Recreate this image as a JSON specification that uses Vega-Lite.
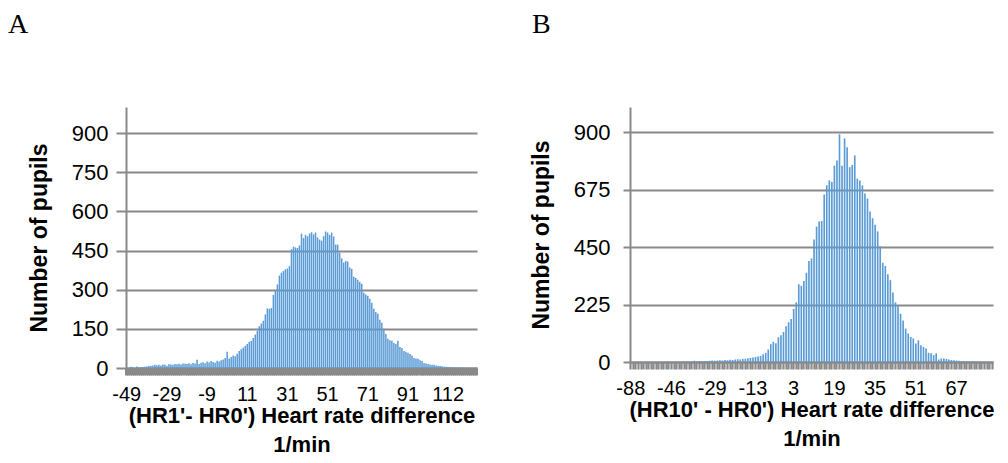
{
  "$schema": "https://vega.github.io/schema/vega-lite/v6.json",
  "padding": {"left": 8, "top": 11, "right": 5, "bottom": 0},
  "background": "white",
  "spacing": 52,
  "datasets": {
    "a": [
      {"v":-49,"n":4},{"v":-48,"n":0},{"v":-47,"n":5},{"v":-46,"n":3},{"v":-45,"n":0},{"v":-44,"n":6},{"v":-43,"n":2},{"v":-42,"n":3},{"v":-41,"n":4},{"v":-40,"n":5},
      {"v":-39,"n":6},{"v":-38,"n":8},{"v":-37,"n":9},{"v":-36,"n":10},{"v":-35,"n":12},{"v":-34,"n":11},{"v":-33,"n":12},{"v":-32,"n":10},{"v":-31,"n":13},{"v":-30,"n":12},
      {"v":-29,"n":9},{"v":-28,"n":14},{"v":-27,"n":13},{"v":-26,"n":12},{"v":-25,"n":15},{"v":-24,"n":14},{"v":-23,"n":16},{"v":-22,"n":13},{"v":-21,"n":17},{"v":-20,"n":16},
      {"v":-19,"n":15},{"v":-18,"n":18},{"v":-17,"n":14},{"v":-16,"n":19},{"v":-15,"n":17},{"v":-14,"n":32},{"v":-13,"n":15},{"v":-12,"n":20},{"v":-11,"n":22},{"v":-10,"n":18},
      {"v":-9,"n":25},{"v":-8,"n":21},{"v":-7,"n":27},{"v":-6,"n":23},{"v":-5,"n":20},{"v":-4,"n":28},{"v":-3,"n":25},{"v":-2,"n":30},{"v":-1,"n":33},{"v":0,"n":38},
      {"v":1,"n":62},{"v":2,"n":36},{"v":3,"n":42},{"v":4,"n":48},{"v":5,"n":45},{"v":6,"n":55},{"v":7,"n":65},{"v":8,"n":72},{"v":9,"n":78},{"v":10,"n":85},
      {"v":11,"n":92},{"v":12,"n":100},{"v":13,"n":104},{"v":14,"n":115},{"v":15,"n":128},{"v":16,"n":142},{"v":17,"n":160},{"v":18,"n":170},{"v":19,"n":181},{"v":20,"n":205},
      {"v":21,"n":228},{"v":22,"n":227},{"v":23,"n":230},{"v":24,"n":280},{"v":25,"n":296},{"v":26,"n":320},{"v":27,"n":354},{"v":28,"n":365},{"v":29,"n":372},{"v":30,"n":378},
      {"v":31,"n":381},{"v":32,"n":390},{"v":33,"n":455},{"v":34,"n":465},{"v":35,"n":462},{"v":36,"n":460},{"v":37,"n":470},{"v":38,"n":515},{"v":39,"n":498},{"v":40,"n":510},
      {"v":41,"n":505},{"v":42,"n":515},{"v":43,"n":520},{"v":44,"n":512},{"v":45,"n":519},{"v":46,"n":500},{"v":47,"n":492},{"v":48,"n":488},{"v":49,"n":505},{"v":50,"n":523},
      {"v":51,"n":519},{"v":52,"n":510},{"v":53,"n":519},{"v":54,"n":504},{"v":55,"n":473},{"v":56,"n":473},{"v":57,"n":442},{"v":58,"n":420},{"v":59,"n":404},{"v":60,"n":410},
      {"v":61,"n":408},{"v":62,"n":385},{"v":63,"n":380},{"v":64,"n":350},{"v":65,"n":345},{"v":66,"n":338},{"v":67,"n":330},{"v":68,"n":323},{"v":69,"n":288},{"v":70,"n":282},
      {"v":71,"n":277},{"v":72,"n":265},{"v":73,"n":250},{"v":74,"n":227},{"v":75,"n":215},{"v":76,"n":208},{"v":77,"n":185},{"v":78,"n":173},{"v":79,"n":150},{"v":80,"n":130},
      {"v":81,"n":112},{"v":82,"n":106},{"v":83,"n":104},{"v":84,"n":96},{"v":85,"n":92},{"v":86,"n":104},{"v":87,"n":80},{"v":88,"n":77},{"v":89,"n":65},{"v":90,"n":62},
      {"v":91,"n":58},{"v":93,"n":54},{"v":94,"n":48},{"v":95,"n":38},{"v":96,"n":36},{"v":97,"n":35},{"v":98,"n":30},{"v":99,"n":27},{"v":100,"n":19},{"v":101,"n":17},
      {"v":102,"n":15},{"v":103,"n":13},{"v":104,"n":12},{"v":105,"n":12},{"v":106,"n":10},{"v":107,"n":9},{"v":108,"n":8},{"v":109,"n":7},{"v":110,"n":5},{"v":111,"n":5},
      {"v":112,"n":4},{"v":113,"n":3},{"v":114,"n":3},{"v":115,"n":2},{"v":116,"n":2},{"v":117,"n":2},{"v":118,"n":1},{"v":119,"n":1},{"v":120,"n":1},{"v":121,"n":1},
      {"v":122,"n":0},{"v":123,"n":1},{"v":124,"n":0},{"v":125,"n":0},{"v":126,"n":1}
    ],
    "b": [
      {"v":-88,"n":1},{"v":-83,"n":1},{"v":-79,"n":0},{"v":-76,"n":1},{"v":-73,"n":1},{"v":-70,"n":0},{"v":-67,"n":1},{"v":-64,"n":1},{"v":-62,"n":1},{"v":-60,"n":0},
      {"v":-58,"n":1},{"v":-56,"n":1},{"v":-54,"n":1},{"v":-52,"n":1},{"v":-50,"n":2},{"v":-48,"n":1},{"v":-46,"n":1},{"v":-45,"n":1},{"v":-44,"n":2},{"v":-43,"n":1},
      {"v":-42,"n":2},{"v":-41,"n":2},{"v":-39,"n":3},{"v":-38,"n":2},{"v":-37,"n":3},{"v":-36,"n":5},{"v":-35,"n":3},{"v":-34,"n":4},{"v":-33,"n":3},{"v":-32,"n":4},
      {"v":-31,"n":4},{"v":-30,"n":5},{"v":-29,"n":6},{"v":-28,"n":5},{"v":-27,"n":6},{"v":-26,"n":7},{"v":-25,"n":6},{"v":-24,"n":8},{"v":-23,"n":7},{"v":-22,"n":9},
      {"v":-21,"n":8},{"v":-20,"n":10},{"v":-19,"n":11},{"v":-18,"n":10},{"v":-17,"n":12},{"v":-16,"n":13},{"v":-15,"n":15},{"v":-14,"n":16},{"v":-13,"n":18},{"v":-12,"n":20},
      {"v":-11,"n":22},{"v":-10,"n":24},{"v":-9,"n":30},{"v":-8,"n":36},{"v":-7,"n":49},{"v":-6,"n":70},{"v":-5,"n":79},{"v":-4,"n":74},{"v":-3,"n":97},{"v":-2,"n":105},
      {"v":-1,"n":118},{"v":0,"n":140},{"v":1,"n":156},{"v":2,"n":169},{"v":3,"n":208},{"v":4,"n":234},{"v":5,"n":305},{"v":6,"n":299},{"v":7,"n":318},{"v":8,"n":350},
      {"v":9,"n":396},{"v":10,"n":406},{"v":11,"n":480},{"v":12,"n":531},{"v":13,"n":551},{"v":14,"n":553},{"v":15,"n":657},{"v":16,"n":693},{"v":17,"n":712},{"v":18,"n":706},
      {"v":19,"n":770},{"v":20,"n":790},{"v":21,"n":893},{"v":22,"n":770},{"v":23,"n":877},{"v":24,"n":842},{"v":25,"n":764},{"v":26,"n":773},{"v":27,"n":810},{"v":28,"n":719},
      {"v":29,"n":712},{"v":30,"n":693},{"v":31,"n":661},{"v":32,"n":641},{"v":33,"n":590},{"v":34,"n":564},{"v":35,"n":538},{"v":36,"n":512},{"v":37,"n":454},{"v":38,"n":389},
      {"v":39,"n":376},{"v":40,"n":344},{"v":41,"n":321},{"v":42,"n":273},{"v":43,"n":234},{"v":44,"n":221},{"v":45,"n":189},{"v":46,"n":163},{"v":47,"n":131},{"v":48,"n":112},
      {"v":49,"n":98},{"v":50,"n":92},{"v":51,"n":73},{"v":52,"n":85},{"v":53,"n":66},{"v":54,"n":59},{"v":55,"n":53},{"v":56,"n":36},{"v":57,"n":34},{"v":58,"n":27},
      {"v":59,"n":34},{"v":60,"n":10},{"v":61,"n":14},{"v":62,"n":14},{"v":63,"n":12},{"v":64,"n":10},{"v":65,"n":8},{"v":66,"n":7},{"v":67,"n":6},{"v":68,"n":5},
      {"v":69,"n":4},{"v":70,"n":3},{"v":71,"n":3},{"v":72,"n":2},{"v":73,"n":2},{"v":74,"n":2},{"v":75,"n":1},{"v":76,"n":1},{"v":77,"n":1},{"v":78,"n":1},
      {"v":79,"n":0},{"v":80,"n":1},{"v":81,"n":1}
    ]
  },
  "hconcat": [
    {
      "width": 351,
      "height": 261,
      "data": {"name": "a"},
      "title": {"text": "A", "anchor": "start", "frame": "group", "dx": -118, "offset": 68},
      "mark": {"type": "bar", "color": "#5b9bd5"},
      "encoding": {
        "x": {
          "field": "v", "type": "ordinal", "sort": "ascending",
          "scale": {"paddingInner": 0.25, "paddingOuter": 0},
          "axis": {
            "title": ["(HR1'- HR0') Heart rate difference", "1/min"],
            "tickWidth": 3,
            "labelExpr": "indexof([-49,-29,-9,11,31,51,71,91,112], datum.value) >= 0 ? datum.label : ''"
          }
        },
        "y": {
          "field": "n", "type": "quantitative",
          "scale": {"domain": [0, 1000], "nice": false},
          "axis": {"values": [0, 150, 300, 450, 600, 750, 900], "title": "Number of pupils", "tickSize": 10, "labelPadding": 8}
        }
      }
    },
    {
      "width": 363,
      "height": 255,
      "data": {"name": "b"},
      "title": {"text": "B", "anchor": "start", "frame": "group", "dx": -98, "offset": 68},
      "mark": {"type": "bar", "color": "#5b9bd5"},
      "encoding": {
        "x": {
          "field": "v", "type": "ordinal", "sort": "ascending",
          "scale": {"paddingInner": 0.35, "paddingOuter": 0},
          "axis": {
            "title": ["(HR10' - HR0') Heart rate difference", "1/min"],
            "tickWidth": 2.2,
            "labelExpr": "indexof([-88,-46,-29,-13,3,19,35,51,67], datum.value) >= 0 ? datum.label : ''"
          }
        },
        "y": {
          "field": "n", "type": "quantitative",
          "scale": {"domain": [0, 1000], "nice": false},
          "axis": {"values": [0, 225, 450, 675, 900], "title": "Number of pupils", "tickSize": 7, "labelPadding": 13}
        }
      }
    }
  ],
  "config": {
    "view": {"stroke": null},
    "font": "Liberation Sans",
    "title": {"font": "Liberation Serif", "fontSize": 28, "fontWeight": "normal", "color": "black"},
    "axis": {
      "labelFont": "Liberation Sans", "labelColor": "black",
      "titleFont": "Liberation Sans", "titleFontWeight": "bold", "titleColor": "black",
      "domainColor": "#898989", "domainWidth": 2, "tickColor": "#898989", "gridColor": "#898989", "gridWidth": 2
    },
    "axisX": {"grid": false, "labelAngle": 0, "labelFontSize": 20, "labelOverlap": false, "tickSize": 7, "labelPadding": 9, "titlePadding": 1, "titleFontSize": 22, "titleLineHeight": 29},
    "axisY": {"grid": true, "labelFontSize": 22, "tickWidth": 2, "titleFontSize": 23, "titlePadding": 20}
  }
}
